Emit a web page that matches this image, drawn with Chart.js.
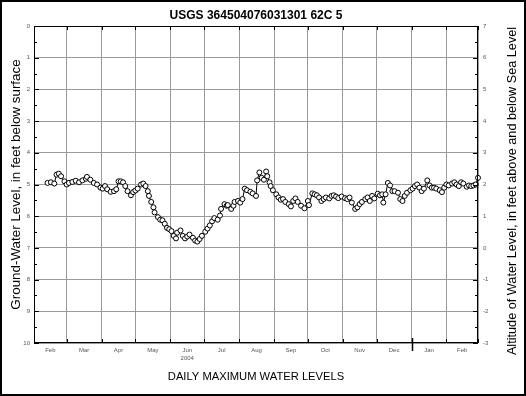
<!DOCTYPE html>
<html>
<head>
<meta charset="utf-8">
<script src="https://cdn.jsdelivr.net/npm/chart.js@4/dist/chart.umd.min.js"></script>
<style>
html, body { margin: 0; padding: 0; background: #fff; }
</style>
</head>
<body>
<canvas id="chart" width="526" height="396"></canvas>
<script>
// --- data (days counted from 1 Feb 2004) ---
const monthStarts = [0, 29, 60, 90, 121, 151, 182, 213, 243, 274, 304, 335, 366, 394];
const monthNames = ['Feb', 'Mar', 'Apr', 'May', 'Jun', 'Jul', 'Aug', 'Sep', 'Oct', 'Nov', 'Dec', 'Jan', 'Feb'];
const yearLabel = '2004';
const yearBreakDay = 335;

const dayNumbers = [
    12, 15, 18, 20, 22, 24, 27, 29, 31, 34, 37, 40, 43, 46, 47, 50, 53, 56, 59, 61,
    63, 65, 68, 71, 73, 75, 77, 79, 81, 83, 86, 88, 90, 92, 95, 97, 99, 101, 102, 104,
    106, 107, 110, 112, 114, 116, 118, 120, 122, 124, 126, 127, 130, 132, 134, 136, 138, 141, 143, 145,
    147, 149, 152, 154, 156, 158, 160, 163, 165, 166, 169, 171, 172, 175, 177, 178, 181, 183, 185, 187,
    189, 192, 194, 197, 198, 200, 202, 204, 206, 207, 209, 210, 212, 215, 217, 219, 221, 223, 226, 228,
    230, 232, 234, 237, 240, 243, 244, 247, 249, 251, 253, 255, 257, 259, 262, 264, 266, 268, 270, 273,
    276, 278, 280, 282, 285, 287, 289, 291, 294, 296, 298, 300, 302, 305, 307, 309, 310, 312, 314, 316,
    318, 320, 323, 325, 327, 329, 331, 334, 336, 338, 340, 342, 344, 346, 349, 351, 353, 355, 357, 360,
    362, 364, 366, 368, 371, 373, 375, 377, 379, 381, 384, 386, 388, 390, 392, 394
];
const depthFeet = [
    4.95, 4.93, 4.97, 4.69, 4.66, 4.74, 4.90, 5.00, 4.95, 4.92, 4.88, 4.93, 4.87, 4.82, 4.76, 4.85, 4.95, 5.00, 5.10, 5.13,
    5.05, 5.15, 5.23, 5.21, 5.15, 4.90, 4.90, 4.93, 5.05, 5.21, 5.34, 5.24, 5.19, 5.13, 5.00, 4.97, 5.05, 5.21, 5.36, 5.55,
    5.72, 5.88, 6.03, 6.11, 6.13, 6.24, 6.37, 6.41, 6.47, 6.62, 6.70, 6.52, 6.45, 6.62, 6.70, 6.64, 6.58, 6.68, 6.77, 6.80,
    6.72, 6.62, 6.49, 6.39, 6.29, 6.16, 6.06, 6.11, 5.98, 5.77, 5.62, 5.67, 5.65, 5.77, 5.67, 5.55, 5.52, 5.57, 5.46, 5.13,
    5.18, 5.23, 5.28, 5.36, 4.87, 4.62, 4.79, 4.85, 4.59, 4.74, 4.93, 5.05, 5.18, 5.31, 5.41, 5.48, 5.46, 5.55, 5.62, 5.69,
    5.52, 5.44, 5.55, 5.67, 5.75, 5.52, 5.65, 5.28, 5.31, 5.34, 5.41, 5.52, 5.46, 5.41, 5.44, 5.36, 5.34, 5.38, 5.43, 5.38,
    5.43, 5.46, 5.41, 5.57, 5.77, 5.72, 5.62, 5.55, 5.46, 5.41, 5.52, 5.36, 5.44, 5.29, 5.34, 5.31, 5.57, 5.31, 4.95, 5.03,
    5.21, 5.21, 5.26, 5.46, 5.52, 5.36, 5.26, 5.18, 5.13, 5.05, 5.00, 5.10, 5.21, 5.13, 4.87, 5.03, 5.10, 5.10, 5.13, 5.18,
    5.24, 5.10, 5.00, 5.03, 4.97, 4.93, 5.00, 5.05, 4.93, 4.97, 5.07, 5.03, 5.05, 5.03, 5.00, 4.79
];

const FONT = "'Liberation Sans', Arial, sans-serif";
const GRID = '#9a9a9a';
const TICK_TEXT = '#555';

const monthMid = monthNames.map((m, i) => (monthStarts[i] + monthStarts[i + 1]) / 2);
const wholeOnly = v => Number.isInteger(v) ? String(v) : '';

// frame, inner tick marks, year break and the right-hand title
const framePlugin = {
    id: 'frame',
    afterDraw(chart) {
        const { ctx, chartArea: a, scales } = chart;
        ctx.save();
        ctx.strokeStyle = '#000';
        ctx.lineWidth = 1;
        ctx.strokeRect(Math.round(a.left) + 0.5, Math.round(a.top) + 0.5,
            Math.round(a.width) - 1, Math.round(a.height) - 1);

        ctx.beginPath();
        monthStarts.forEach(v => {
            const px = Math.round(scales.x.getPixelForValue(v)) + 0.5;
            ctx.moveTo(px, a.top); ctx.lineTo(px, a.top + 4);
            ctx.moveTo(px, a.bottom); ctx.lineTo(px, a.bottom - 4);
        });
        for (let v = 0; v <= 10; v += 0.5) {
            const py = Math.round(scales.y.getPixelForValue(v)) + 0.5;
            const len = Number.isInteger(v) ? 5 : 3;
            ctx.moveTo(a.left, py); ctx.lineTo(a.left + len, py);
            ctx.moveTo(a.right, py); ctx.lineTo(a.right - len, py);
        }
        ctx.stroke();

        const yb = Math.round(scales.x.getPixelForValue(yearBreakDay)) + 0.5;
        ctx.beginPath();
        ctx.lineWidth = 1.5;
        ctx.moveTo(yb, a.bottom - 5); ctx.lineTo(yb, a.bottom + 8);
        ctx.stroke();

        ctx.lineWidth = 2;
        ctx.strokeRect(1, 1, chart.width - 2, chart.height - 2);

        ctx.translate(512, 191);
        ctx.rotate(-Math.PI / 2);
        ctx.fillStyle = '#000';
        ctx.font = '12.7px ' + FONT;
        ctx.textAlign = 'center';
        ctx.textBaseline = 'middle';
        ctx.fillText('Altitude of Water Level, in feet above and below Sea Level', 0, 0);
        ctx.restore();
    }
};

new Chart(document.getElementById('chart'), {
    type: 'line',
    data: {
        datasets: [{
            data: dayNumbers.map((d, i) => ({ x: d, y: depthFeet[i] })),
            xAxisID: 'x',
            yAxisID: 'y',
            borderColor: '#000',
            borderWidth: 1,
            pointRadius: 2.5,
            pointBorderWidth: 1,
            pointBorderColor: '#000',
            pointBackgroundColor: '#fff',
            tension: 0,
            clip: false
        }]
    },
    options: {
        responsive: false,
        animation: false,
        layout: { padding: 0 },
        plugins: {
            legend: { display: false },
            tooltip: { enabled: false },
            title: {
                display: true,
                fullSize: false,
                text: 'USGS 364504076031301 62C 5',
                color: '#000',
                font: { family: FONT, size: 12, weight: 'bold', lineHeight: 1.2 },
                padding: { top: 8, bottom: 3.6 }
            }
        },
        scales: {
            x: {
                type: 'linear', position: 'bottom', min: 0, max: 394,
                afterBuildTicks: s => { s.ticks = monthStarts.map(v => ({ value: v })); },
                ticks: { display: false },
                grid: { color: GRID, lineWidth: 1, drawTicks: false },
                border: { display: false },
                afterFit: s => { s.height = 0; }
            },
            xm: {
                type: 'linear', position: 'bottom', min: 0, max: 394,
                afterBuildTicks: s => { s.ticks = monthMid.map(v => ({ value: v })); },
                ticks: {
                    autoSkip: false, maxRotation: 0, color: TICK_TEXT, padding: 3,
                    font: { family: FONT, size: 6, lineHeight: 1.35 },
                    callback: (v, i) => i === 4 ? [monthNames[i], yearLabel] : monthNames[i]
                },
                grid: { display: false, drawTicks: false },
                border: { display: false },
                title: {
                    display: true, text: 'DAILY MAXIMUM WATER LEVELS', color: '#000',
                    font: { family: FONT, size: 11.2, lineHeight: 1.2 },
                    padding: { top: 0, bottom: 12.4 }
                },
                afterFit: s => { s.height = 53; }
            },
            y: {
                type: 'linear', position: 'left', reverse: true, min: 0, max: 10,
                ticks: {
                    stepSize: 0.5, autoSkip: false, color: TICK_TEXT, padding: 4,
                    font: { family: FONT, size: 6 },
                    callback: wholeOnly
                },
                grid: {
                    drawTicks: false, lineWidth: 1,
                    color: c => Number.isInteger(c.tick.value) ? GRID : 'rgba(0,0,0,0)'
                },
                border: { display: false },
                title: {
                    display: true, text: 'Ground-Water Level, in feet below surface', color: '#000',
                    font: { family: FONT, size: 13.4, lineHeight: 1.2 },
                    padding: { top: 8, bottom: 0 }
                },
                afterFit: s => { s.width = 34; }
            },
            y2: {
                type: 'linear', position: 'right', min: -3, max: 7,
                ticks: {
                    stepSize: 0.5, autoSkip: false, color: TICK_TEXT, padding: 5,
                    font: { family: FONT, size: 6 },
                    callback: wholeOnly
                },
                grid: { display: false, drawTicks: false },
                border: { display: false },
                afterFit: s => { s.width = 48; }
            }
        }
    },
    plugins: [framePlugin]
});
</script>
</body>
</html>
